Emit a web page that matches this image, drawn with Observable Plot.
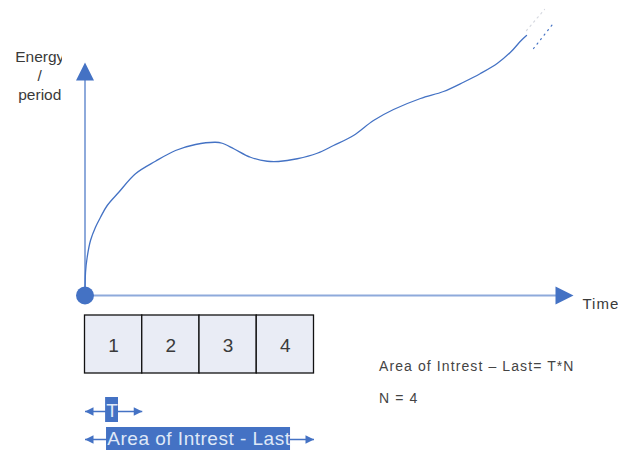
<!DOCTYPE html>
<html>
<head>
<meta charset="utf-8">
<script src="https://cdn.jsdelivr.net/npm/d3@7"></script>
<script src="https://cdn.jsdelivr.net/npm/@observablehq/plot@0.6"></script>
<style>
  html, body { margin: 0; padding: 0; background: #fff; }
  svg { display: block; }
</style>
</head>
<body>
<div id="chart"></div>
<script>
// Energy per period over time (time measured in periods, energy in arbitrary units)
const curveTime   = [0, 0.009, 0.038, 0.096, 0.183, 0.271, 0.388, 0.590, 0.882, 1.231, 1.581, 1.930, 2.279, 2.397, 2.599, 2.891, 3.183, 3.380, 3.707, 4.056, 4.341, 4.690, 5.039, 5.389, 5.860, 6.262, 6.611, 6.908, 7.205, 7.432, 7.619, 7.712];
const curveEnergy = [0, 0.92, 1.53, 2.20, 2.73, 3.13, 3.60, 4.13, 4.87, 5.37, 5.80, 6.04, 6.13, 6.09, 5.87, 5.53, 5.37, 5.36, 5.47, 5.69, 6.00, 6.40, 7.00, 7.44, 7.88, 8.16, 8.53, 8.88, 9.29, 9.73, 10.20, 10.40];

// dotted continuation past the end of the drawn curve
const trailTime   = [7.834, 8.166];
const trailEnergy = [9.88, 10.84];
const ghostTime   = [7.712, 8.026];
const ghostEnergy = [10.60, 11.44];

// axes
const timeAxisEnd = 8.533;
const energyAxisEnd = 9.32;
const axisLabels = ["Energy\n/\nperiod", "Time"];

// periods in the area of interest
const periodLabels = ["1", "2", "3", "4"];
const periodCount = 4;

// span annotations below the periods
const spanLabels = ["T", "Area of Intrest - Last"];
const spanLengths = [1, periodCount];
const notes = ["Area of Intrest \u2013 Last= T*N", "N = " + periodCount];

// ---- layout ----
const W = 618, H = 453;
const ORIGIN_X = 84.5, ORIGIN_Y = 295;     // pixel position of the origin
const PX_PER_PERIOD = 57.25, PX_PER_UNIT = 25;
const FONT = "'Liberation Sans', Arial, sans-serif";
const BLUE = "#4472c4", AXIS_BLUE = "#8eaadb", INK = "#3a3a3a";

const curve = curveTime.map((t, i) => ({t, e: curveEnergy[i]}));
const trail = trailTime.map((t, i) => ({t, e: trailEnergy[i]}));
const ghost = ghostTime.map((t, i) => ({t, e: ghostEnergy[i]}));
const periods = periodLabels.map((label, i) => ({label, start: i}));

const boxTop = -0.8, boxBottom = -3.12, boxLabelY = -2.0;
const spanLevels = [-4.64, -5.76];
const spans = spanLabels.map((label, i) => ({label, from: 0, to: spanLengths[i], level: spanLevels[i]}));
const highlights = [
  {x1: 0.36, x2: 0.585, y1: -4.08, y2: -5.08},
  {x1: 0.376, x2: 3.59, y1: -5.28, y2: -6.20}
];

// filled arrowhead whose tip sits on the anchor point, pointing up before rotation
const arrowHead = {
  draw(ctx, size) {
    const s = Math.sqrt(size);
    ctx.moveTo(0, 0);
    ctx.lineTo(s * 0.5, s);
    ctx.lineTo(-s * 0.5, s);
    ctx.closePath();
  }
};
const bigHead = 18 / Math.sqrt(Math.PI);
const smallHead = 8.5 / Math.sqrt(Math.PI);

const axisHeads = [
  {t: timeAxisEnd, e: 0, rot: 90},
  {t: 0, e: energyAxisEnd, rot: 0}
];
const spanHeads = spans.flatMap(s => [
  {t: s.from, e: s.level, rot: -90},
  {t: s.to, e: s.level, rot: 90}
]);

const chart = Plot.plot({
  width: W,
  height: H,
  margin: 0,
  x: {domain: [-ORIGIN_X / PX_PER_PERIOD, (W - ORIGIN_X) / PX_PER_PERIOD], axis: null},
  y: {domain: [-(H - ORIGIN_Y) / PX_PER_UNIT, ORIGIN_Y / PX_PER_UNIT], axis: null},
  style: {background: "#fff", fontFamily: FONT, overflow: "hidden"},
  marks: [
    // axis lines
    Plot.ruleY([0], {x1: 0, x2: timeAxisEnd - 0.2, stroke: AXIS_BLUE, strokeWidth: 2}),
    Plot.ruleX([0], {y1: 0, y2: energyAxisEnd - 0.5, stroke: AXIS_BLUE, strokeWidth: 2}),
    Plot.dot(axisHeads, {x: "t", y: "e", rotate: "rot", symbol: arrowHead, r: bigHead, fill: BLUE, stroke: "none"}),

    // energy curve
    Plot.line(curve, {x: "t", y: "e", curve: "catmull-rom", stroke: BLUE, strokeWidth: 1.3}),
    Plot.line(trail, {x: "t", y: "e", stroke: BLUE, strokeWidth: 1.2, strokeDasharray: "1.2,4.5"}),
    Plot.line(ghost, {x: "t", y: "e", stroke: "#d6d9e0", strokeWidth: 1.2, strokeDasharray: "1.5,4"}),

    // origin
    Plot.dot([{t: 0, e: 0}], {x: "t", y: "e", r: 9, fill: BLUE, stroke: "none"}),

    // axis labels
    Plot.text([axisLabels[0]], {x: -0.79, y: 8.82, text: d => d, fontSize: 15.5, lineHeight: 1.2, fill: INK, ariaDescription: "energy-label"}),
    Plot.text([axisLabels[1]], {x: 8.69, y: -0.36, text: d => d, textAnchor: "start", fontSize: 15, fill: INK, ariaDescription: "time-label"}),

    // the periods
    Plot.rect(periods, {x1: "start", x2: d => d.start + 1, y1: boxTop, y2: boxBottom, fill: "#e9ecf5", stroke: "#111", strokeWidth: 1.3}),
    Plot.text(periods, {x: d => d.start + 0.5, y: boxLabelY, text: "label", fontSize: 19, fill: INK}),

    // span arrows
    Plot.link(spans, {x1: "from", x2: "to", y1: "level", y2: "level", stroke: BLUE, strokeWidth: 1.5}),
    Plot.dot(spanHeads, {x: "t", y: "e", rotate: "rot", symbol: arrowHead, r: smallHead, fill: BLUE, stroke: "none"}),
    Plot.rect(highlights, {x1: "x1", x2: "x2", y1: "y1", y2: "y2", fill: BLUE}),
    Plot.text([spanLabels[0]], {x: 0.472, y: -4.60, text: d => d, fontSize: 19, fill: "#dfe8f7"}),
    Plot.text([spanLabels[1]], {x: 0.39, y: -5.72, text: d => d, textAnchor: "start", fontSize: 19, fill: "#dfe8f7", ariaDescription: "span-label"}),

    // notes
    Plot.text(notes, {x: 5.135, y: (d, i) => [-2.86, -4.14][i], text: d => d, textAnchor: "start", fontSize: 14, fill: "#444", ariaDescription: "notes"})
  ]
});

document.getElementById("chart").appendChild(chart);

// letter spacing and clipping of a few labels
const sx = chart.scale("x"), sy = chart.scale("y");
const svg = d3.select(chart);
const group = name => svg.select(`g[aria-description="${name}"]`);
group("notes").attr("letter-spacing", "1.1px");
group("time-label").attr("letter-spacing", "1px");
group("span-label").attr("letter-spacing", "0.5px");

const defs = svg.insert("defs", ":first-child");
defs.append("clipPath").attr("id", "energy-clip")
  .append("rect").attr("x", 0).attr("y", 0).attr("width", 61.5).attr("height", H);
group("energy-label").attr("clip-path", "url(#energy-clip)");
const hb = highlights[1];
defs.append("clipPath").attr("id", "span-clip")
  .append("rect")
  .attr("x", sx.apply(hb.x1)).attr("y", sy.apply(hb.y1))
  .attr("width", sx.apply(hb.x2) - sx.apply(hb.x1))
  .attr("height", sy.apply(hb.y2) - sy.apply(hb.y1));
group("span-label").attr("clip-path", "url(#span-clip)");
</script>
</body>
</html>
